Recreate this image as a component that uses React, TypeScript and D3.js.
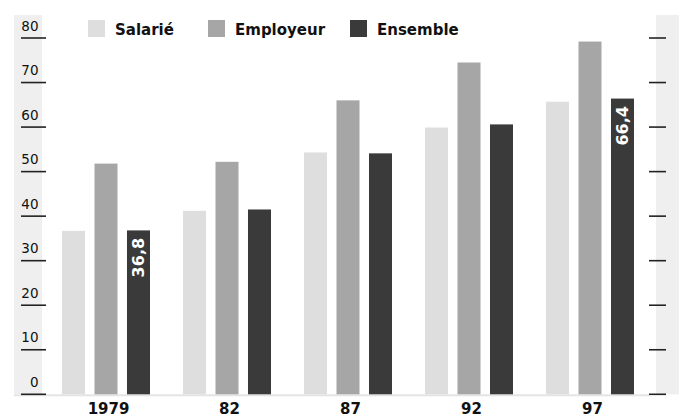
import React from "react";
import * as d3 from "d3";

const years = ["1979", "82", "87", "92", "97"];
const seriesNames = ["Salarié", "Employeur", "Ensemble"];
const salarie = [36.7, 41.2, 54.3, 59.9, 65.7];
const employeur = [51.8, 52.2, 66.0, 74.5, 79.2];
const ensemble = [36.8, 41.5, 54.1, 60.6, 66.4];
const seriesColors = ["#dedede", "#a6a6a6", "#3a3a3a"];
const yTicks = [0, 10, 20, 30, 40, 50, 60, 70, 80];
// value labels written inside bars: [series index, year index]
const valueLabels: [number, number][] = [
  [2, 0],
  [2, 4],
];

const W = 679;
const H = 417;
const FONT = "'DejaVu Sans', sans-serif";

export default function App() {
  const series = [salarie, employeur, ensemble];
  const y = d3.scaleLinear().domain([0, 80]).range([394.3, 38]);
  const xGroup = d3.scalePoint<string>().domain(years).range([106, 590]);
  const xInner = d3
    .scaleBand<number>()
    .domain([0, 1, 2])
    .range([-44, 44])
    .paddingInner(0.292);
  const fmt = (v: number) => d3.format(".1f")(v).replace(".", ",");

  return (
    <svg
      width={W}
      height={H}
      style={{ position: "absolute", left: 0, top: 0, background: "#fff" }}
    >
      {/* side bands */}
      <rect x={14} y={15} width={28} height={y(0) - 15} fill="#efefef" />
      <rect x={656} y={15} width={W - 656} height={y(0) - 15} fill="#efefef" />
      {/* base line */}
      <rect x={14} y={y(0)} width={635} height={2} fill="#e4e4e4" />

      {/* y axis, left */}
      {yTicks.map((t) => (
        <g key={"l" + t}>
          <line x1={21} x2={46} y1={y(t)} y2={y(t)} stroke="#222" strokeWidth={1.6} />
          <text
            x={38.5}
            y={y(t) - 7.5}
            textAnchor="end"
            fontFamily={FONT}
            fontSize={13.5}
            fill="#111"
          >
            {t}
          </text>
        </g>
      ))}
      {/* y axis ticks, right */}
      {yTicks.map((t) => (
        <line
          key={"r" + t}
          x1={649}
          x2={666}
          y1={y(t)}
          y2={y(t)}
          stroke="#222"
          strokeWidth={1.6}
        />
      ))}

      {/* bars */}
      {years.map((yr, i) => (
        <g key={yr} transform={`translate(${xGroup(yr)},0)`}>
          {series.map((vals, s) => (
            <rect
              key={s}
              x={xInner(s)}
              y={y(vals[i])}
              width={xInner.bandwidth()}
              height={y(0) - y(vals[i])}
              fill={seriesColors[s]}
            />
          ))}
        </g>
      ))}

      {/* values written in bars */}
      {valueLabels.map(([s, i]) => {
        const v = series[s][i];
        const cx = (xGroup(years[i]) as number) + (xInner(s) as number) + xInner.bandwidth() / 2;
        const ty = y(v) + 7.5;
        return (
          <text
            key={`${s}-${i}`}
            transform={`translate(${cx + 6},${ty}) rotate(-90)`}
            textAnchor="end"
            fontFamily={FONT}
            fontWeight="bold"
            fontSize={16}
            fill="#fff"
          >
            {fmt(v)}
          </text>
        );
      })}

      {/* category labels */}
      {years.map((yr) => (
        <text
          key={"c" + yr}
          x={(xGroup(yr) as number) + 2.5}
          y={413.5}
          textAnchor="middle"
          fontFamily={FONT}
          fontWeight="bold"
          fontSize={15}
          fill="#111"
        >
          {yr}
        </text>
      ))}

      {/* legend */}
      {seriesNames.map((name, s) => {
        const lx = [88, 208, 350][s];
        return (
          <g key={name}>
            <rect x={lx} y={20} width={17} height={17} fill={seriesColors[s]} />
            <text
              x={lx + 27}
              y={35}
              fontFamily={FONT}
              fontWeight="bold"
              fontSize={15}
              fill="#111"
            >
              {name}
            </text>
          </g>
        );
      })}
    </svg>
  );
}
